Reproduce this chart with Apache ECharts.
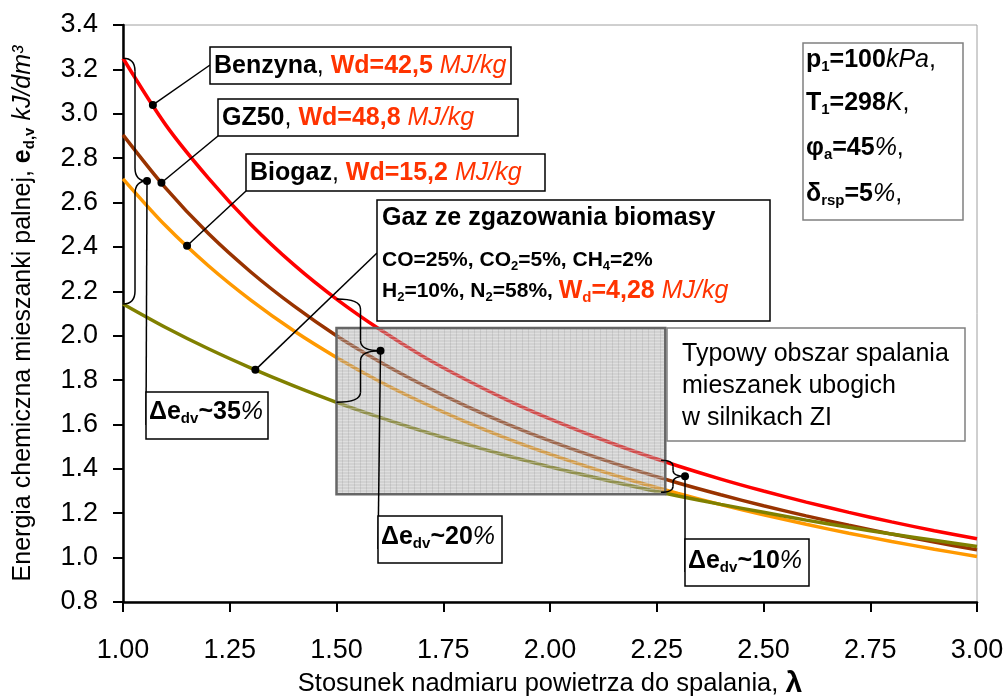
<!DOCTYPE html>
<html>
<head>
<meta charset="utf-8">
<script src="https://cdn.jsdelivr.net/npm/echarts@6/dist/echarts.min.js"></script>
<style>
  html, body { margin: 0; padding: 0; background: #fff; }
  #chart { width: 1007px; height: 698px; }
</style>
</head>
<body>
<div id="chart"></div>
<script>
// Excess air ratio (lambda) and volumetric chemical energy of the mixture, kJ/dm3
const lambda     = [1.0, 1.1, 1.2, 1.3, 1.4, 1.5, 1.6, 1.7, 1.8, 1.9, 2.0, 2.1, 2.2, 2.3, 2.4, 2.5, 2.6, 2.7, 2.8, 2.9, 3.0];
const benzyna    = [3.25, 2.95, 2.71, 2.50, 2.32, 2.165, 2.03, 1.91, 1.805, 1.71, 1.625, 1.548, 1.477, 1.413, 1.354, 1.30, 1.25, 1.204, 1.161, 1.121, 1.085];
const gz50       = [2.905, 2.665, 2.46, 2.286, 2.134, 2.0, 1.884, 1.78, 1.686, 1.602, 1.526, 1.457, 1.394, 1.336, 1.283, 1.234, 1.188, 1.146, 1.106, 1.07, 1.035];
const biogaz     = [2.707, 2.495, 2.315, 2.159, 2.022, 1.902, 1.795, 1.70, 1.614, 1.536, 1.466, 1.402, 1.343, 1.289, 1.239, 1.193, 1.15, 1.11, 1.073, 1.038, 1.005];
const gazBiomasy = [2.143, 2.037, 1.941, 1.854, 1.774, 1.70, 1.633, 1.571, 1.513, 1.459, 1.409, 1.363, 1.319, 1.278, 1.24, 1.204, 1.169, 1.137, 1.106, 1.078, 1.05];

// Axis ranges
const xMin = 1.0, xMax = 3.0, xStep = 0.25;
const yMin = 0.8, yMax = 3.4, yStep = 0.2;

// Typical lean-burn region for SI engines (lambda range, energy range)
const leanLambda = [1.5, 2.27];
const leanEnergy = [1.285, 2.035];

// Where the label leaders touch the curves, and where the difference braces stand
const leaderLambda = { benzyna: 1.07, gz50: 1.09, biogaz: 1.15, gazBiomasy: 1.31 };
const braceLambda = [1.0, 1.5, 2.26];
const deltaPercent = ['35', '20', '10'];

const FONT = '"Liberation Sans", Arial, Helvetica, sans-serif';
const RED_TXT = '#FF3300';

const chart = echarts.init(document.getElementById('chart'), null, { renderer: 'canvas' });

function pairs(ys) { return lambda.map((l, i) => [l, ys[i]]); }

function lineSeries(name, ys, color) {
  return {
    name, type: 'line', data: pairs(ys), smooth: 0.3, symbol: 'none',
    lineStyle: { color, width: 3.5 }, z: 3
  };
}

const option = {
  animation: false,
  backgroundColor: '#fff',
  grid: {
    left: 123, right: 30, top: 25, bottom: 96, containLabel: false, outerBoundsMode: 'none',
    show: true, borderColor: '#a0a0a0', borderWidth: 1
  },
  xAxis: {
    type: 'value', min: xMin, max: xMax, interval: xStep,
    axisLine: { lineStyle: { color: '#000', width: 2.5 } },
    axisTick: { show: true, inside: false, length: 10, lineStyle: { color: '#000', width: 2 } },
    axisLabel: { margin: 35, fontSize: 27, fontFamily: FONT, color: '#000', formatter: v => v.toFixed(2) },
    splitLine: { show: false },
    name: 'Stosunek nadmiaru powietrza do spalania, {l|λ}',
    nameLocation: 'middle', nameGap: 66,
    nameTextStyle: {
      fontSize: 25.5, fontFamily: FONT, color: '#000',
      rich: { l: { fontSize: 30, fontWeight: 'bold', fontFamily: FONT, color: '#000' } }
    }
  },
  yAxis: {
    type: 'value', min: yMin, max: yMax, interval: yStep,
    axisLine: { show: true, lineStyle: { color: '#000', width: 2.5 } },
    axisTick: { show: true, inside: false, length: 10, lineStyle: { color: '#000', width: 2 } },
    axisLabel: { margin: 25, fontSize: 27, fontFamily: FONT, color: '#000', formatter: v => v.toFixed(1) },
    splitLine: { show: false },
    name: 'Energia chemiczna mieszanki palnej, {b|e}{s|d,v} {i|kJ/dm³}',
    nameLocation: 'middle', nameGap: 86, nameRotate: 90,
    nameTextStyle: {
      fontSize: 25, fontFamily: FONT, color: '#000',
      rich: {
        b: { fontSize: 25, fontWeight: 'bold', fontFamily: FONT, color: '#000' },
        s: { fontSize: 15, fontWeight: 'bold', fontFamily: FONT, color: '#000', padding: [13, 0, 0, 0] },
        i: { fontSize: 25, fontStyle: 'italic', fontFamily: FONT, color: '#000' }
      }
    }
  },
  series: [
    lineSeries('Benzyna', benzyna, '#FF0000'),
    lineSeries('GZ50', gz50, '#993300'),
    lineSeries('Biogaz', biogaz, '#FF9900'),
    lineSeries('Gaz ze zgazowania biomasy', gazBiomasy, '#808000')
  ]
};

chart.setOption(option);

// ---- annotations ----
function valueAt(ys, l) {
  for (let i = 0; i < lambda.length - 1; i++) {
    if (l >= lambda[i] && l <= lambda[i + 1]) {
      const t = (l - lambda[i]) / (lambda[i + 1] - lambda[i]);
      return ys[i] + t * (ys[i + 1] - ys[i]);
    }
  }
  return ys[ys.length - 1];
}
function px(x, y) { return chart.convertToPixel({ gridIndex: 0 }, [x, y]); }
function onCurve(ys, l) { return px(l, valueAt(ys, l)); }

const els = [];
let zc = 20;

function rect(x, y, w, h, stroke, lw, fill) {
  els.push({ type: 'rect', z: zc++, shape: { x, y, width: w, height: h },
    style: { fill: fill || '#fff', stroke, lineWidth: lw } });
}
function line(p1, p2, lw) {
  els.push({ type: 'line', z: zc++, shape: { x1: p1[0], y1: p1[1], x2: p2[0], y2: p2[1] },
    style: { stroke: '#000', lineWidth: lw || 1.5 } });
}
function curve(x1, y1, cx, cy, x2, y2) {
  els.push({ type: 'bezierCurve', z: zc++, shape: { x1, y1, cpx1: cx, cpy1: cy, x2, y2 },
    style: { fill: null, stroke: '#000', lineWidth: 1.5 } });
}
function dot(p) {
  els.push({ type: 'circle', z: 80, shape: { cx: p[0], cy: p[1], r: 4 }, style: { fill: '#000' } });
}
function text(x, y, str, rich, base) {
  els.push({ type: 'text', z: zc++, x, y,
    style: Object.assign({ text: str, rich, fontFamily: FONT, fontSize: 25, fill: '#000',
      align: 'left', verticalAlign: 'middle' }, base || {}) });
}
// curly brace opening to the left, its point facing right
function brace(x0, yTop, yBot, b, t, r) {
  const ym = (yTop + yBot) / 2, xb = x0 + b;
  curve(x0, yTop, xb, yTop, xb, yTop + r);
  line([xb, yTop + r], [xb, ym - r]);
  curve(xb, ym - r, xb, ym, x0 + t, ym);
  curve(x0 + t, ym, xb, ym, xb, ym + r);
  line([xb, ym + r], [xb, yBot - r]);
  curve(xb, yBot - r, xb, yBot, x0, yBot);
  return [x0 + t, ym];
}

// rich styles shared by the labels
function R(size, extra) { return Object.assign({ fontSize: size, fontFamily: FONT, fill: '#000', verticalAlign: 'middle' }, extra || {}); }
const richCommon = {
  b: R(25, { fontWeight: 'bold' }),
  n: R(25),
  i: R(25, { fontStyle: 'italic' }),
  s: R(15, { fontWeight: 'bold', padding: [14, 0, 0, 0] }),
  rb: R(25, { fontWeight: 'bold', fill: RED_TXT }),
  ri: R(25, { fontStyle: 'italic', fill: RED_TXT }),
  rs: R(15, { fontWeight: 'bold', fill: RED_TXT, padding: [14, 0, 0, 0] }),
  sb: R(21, { fontWeight: 'bold' }),
  ss: R(13, { fontWeight: 'bold', padding: [12, 0, 0, 0] })
};

// shaded lean-burn region
const pat = document.createElement('canvas');
pat.width = 6; pat.height = 3;
const pc = pat.getContext('2d');
pc.fillStyle = 'rgba(160,160,160,0.48)'; pc.fillRect(0, 0, 6, 3);
pc.fillStyle = 'rgba(255,255,255,0.30)'; pc.fillRect(0, 0, 6, 1);
pc.fillStyle = 'rgba(120,120,120,0.18)'; pc.fillRect(0, 0, 1, 3);
const a = px(leanLambda[0], leanEnergy[1]);
const b = px(leanLambda[1], leanEnergy[0]);
els.push({ type: 'rect', z: 12, shape: { x: a[0], y: a[1], width: b[0] - a[0], height: b[1] - a[1] },
  style: { fill: { image: pat, repeat: 'repeat' }, stroke: '#666', lineWidth: 2.5 } });

// fuel labels with leaders
const pB = onCurve(benzyna, leaderLambda.benzyna);
line([210, 65], pB); dot(pB);
rect(210, 47, 301, 37, '#000', 1.5);
text(214, 66, '{b|Benzyna}{n|, }{rb|Wd=42,5 }{ri|MJ/kg}', richCommon);

const pG = onCurve(gz50, leaderLambda.gz50);
line([218, 136], pG); dot(pG);
rect(218, 99, 300, 37, '#000', 1.5);
text(222, 118, '{b|GZ50}{n|, }{rb|Wd=48,8 }{ri|MJ/kg}', richCommon);

const pBio = onCurve(biogaz, leaderLambda.biogaz);
line([246, 191], pBio); dot(pBio);
rect(246, 154, 299, 37, '#000', 1.5);
text(250, 173, '{b|Biogaz}{n|, }{rb|Wd=15,2 }{ri|MJ/kg}', richCommon);

const pGB = onCurve(gazBiomasy, leaderLambda.gazBiomasy);
line([377, 253], pGB); dot(pGB);
rect(377, 200, 393, 121, '#000', 1.5);
text(382, 218, '{b|Gaz ze zgazowania biomasy}', richCommon);
text(382, 260, '{sb|CO=25%, CO}{ss|2}{sb|=5%, CH}{ss|4}{sb|=2%}', richCommon);
text(382, 291, '{sb|H}{ss|2}{sb|=10%, N}{ss|2}{sb|=58%, }{rb|W}{rs|d}{rb|=4,28 }{ri|MJ/kg}', richCommon);

// conditions
rect(803, 43, 160, 177, '#808080', 1.5);
text(806, 60, '{b|p}{s|1}{b|=100}{i|kPa}{n|,}', richCommon);
text(806, 103, '{b|T}{s|1}{b|=298}{i|K}{n|,}', richCommon);
text(806, 148, '{b|φ}{s|a}{b|=45}{i|%}{n|,}', richCommon);
text(806, 194, '{b|δ}{s|rsp}{b|=5}{i|%}{n|,}', richCommon);

// lean-burn region description
rect(667, 328, 298, 113, '#808080', 1.5);
text(682, 354, 'Typowy obszar spalania', null);
text(682, 386, 'mieszanek ubogich', null);
text(682, 418, 'w silnikach ZI', null);

// difference braces between the top and bottom curve
const braceGeo = [[12, 24, 13], [24, 44, 10], [12, 24, 6]];
const deltaBoxes = [
  { x: 146, y: 392, w: 122, h: 47, ty: 412 },
  { x: 378, y: 516, w: 124, h: 47, ty: 537 },
  { x: 685, y: 539, w: 124, h: 47, ty: 561 }
];
braceLambda.forEach((l, k) => {
  const top = onCurve(benzyna, l);
  const bot = onCurve(gazBiomasy, l);
  const g = braceGeo[k];
  const tip = brace(top[0], top[1], bot[1], g[0], g[1], g[2]);
  const bx = deltaBoxes[k];
  line(tip, [bx.x, bx.y + bx.h - 14]);
  dot(tip);
  rect(bx.x, bx.y, bx.w, bx.h, '#000', 1.5);
  text(bx.x + 3, bx.ty, '{b|Δe}{s|dv}{b|~' + deltaPercent[k] + '}{i|%}', richCommon);
});

chart.setOption({ graphic: { elements: els } });
</script>
</body>
</html>
